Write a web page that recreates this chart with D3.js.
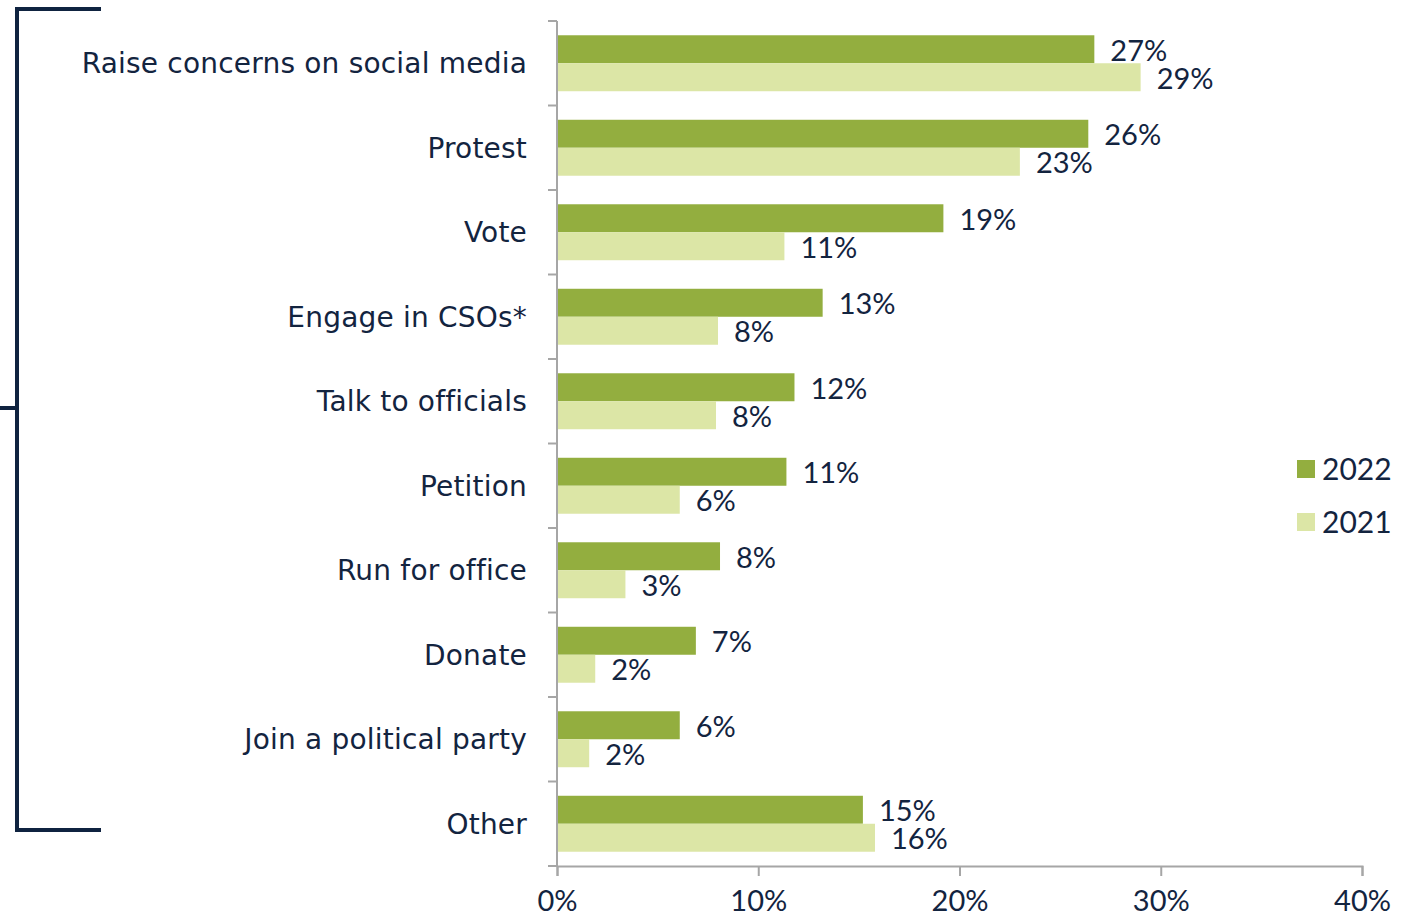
<!DOCTYPE html>
<html><head><meta charset="utf-8">
<script src="https://cdn.jsdelivr.net/npm/d3@7"></script>
<style>html,body{margin:0;padding:0;background:#fff;} svg{display:block;}</style>
</head><body>
<svg id="chart" width="1405" height="922"></svg>
<script>
const categories = ["Raise concerns on social media","Protest","Vote","Engage in CSOs*","Talk to officials","Petition","Run for office","Donate","Join a political party","Other"];
const series = ["2022","2021"];
const values2022 = [26.7, 26.4, 19.2, 13.2, 11.8, 11.4, 8.1, 6.9, 6.1, 15.2];
const values2021 = [29.0, 23.0, 11.3, 8.0, 7.9, 6.1, 3.4, 1.9, 1.6, 15.8];
const labels2022 = ["27%","26%","19%","13%","12%","11%","8%","7%","6%","15%"];
const labels2021 = ["29%","23%","11%","8%","8%","6%","3%","2%","2%","16%"];
const xTicks = [0, 10, 20, 30, 40];
const colors = {"2022": "#93ae3f", "2021": "#dce6a6"};
const textColor = "#13243f";
const font = "Lato, 'Open Sans', sans-serif";
const catFont = "'DejaVu Sans', sans-serif";

(function () {
const svg = d3.select("#chart");
const pLeft = 557, pRight = 1362, pTop = 21, pBottom = 866;
const x = d3.scaleLinear().domain([0, 40]).range([pLeft, pRight]);
const y = d3.scaleBand().domain(categories).range([pTop, pBottom]).padding(0);
const ySub = d3.scaleBand().domain(series).range([0, y.bandwidth()]).paddingInner(0).paddingOuter(0.51);

const rows = categories.map((c, i) => ({cat: c, vals: [
  {s: "2022", v: values2022[i], l: labels2022[i]},
  {s: "2021", v: values2021[i], l: labels2021[i]}]}));

const g = svg.append("g");
const rowG = g.selectAll("g.row").data(rows).join("g")
  .attr("transform", d => `translate(0,${y(d.cat)})`);
rowG.selectAll("rect").data(d => d.vals).join("rect")
  .attr("x", x(0)).attr("y", d => ySub(d.s))
  .attr("width", d => x(d.v) - x(0)).attr("height", ySub.bandwidth())
  .attr("fill", d => colors[d.s]);
rowG.selectAll("text.val").data(d => d.vals).join("text").attr("class", "val")
  .attr("x", d => x(d.v) + 16).attr("y", d => ySub(d.s) + ySub.bandwidth() / 2 + 1)
  .attr("dy", "0.36em").attr("fill", textColor)
  .style("font-family", font).style("font-size", "29px")
  .text(d => d.l);

g.selectAll("text.cat").data(categories).join("text").attr("class", "cat")
  .attr("x", 527).attr("y", d => y(d) + y.bandwidth() / 2)
  .attr("dy", "0.36em").attr("text-anchor", "end").attr("fill", textColor)
  .style("font-family", catFont).style("font-size", "28px").style("letter-spacing", "0.2px")
  .text(d => d);

const axisColor = "#a6a6a6";
g.append("line").attr("x1", pLeft).attr("x2", pLeft).attr("y1", pTop).attr("y2", pBottom)
  .attr("stroke", axisColor).attr("stroke-width", 2);
const bounds = categories.map(c => y(c)).concat([pBottom]);
g.selectAll("line.ytick").data(bounds).join("line").attr("class", "ytick")
  .attr("x1", pLeft - 9).attr("x2", pLeft).attr("y1", d => d).attr("y2", d => d)
  .attr("stroke", axisColor).attr("stroke-width", 2);

const xAxis = g.append("g").attr("transform", `translate(0,${pBottom})`)
  .call(d3.axisBottom(x).tickValues(xTicks).tickFormat(d => d + "%").tickSize(10).tickPadding(14));
xAxis.select(".domain").attr("stroke", axisColor).attr("stroke-width", 2);
xAxis.selectAll(".tick line").attr("stroke", axisColor).attr("stroke-width", 2);
xAxis.selectAll(".tick text").attr("fill", textColor)
  .style("font-family", font).style("font-size", "29px");

const leg = svg.append("g");
series.forEach((s, i) => {
  const ly = 469 + i * 53;
  leg.append("rect").attr("x", 1297).attr("y", ly - 9).attr("width", 18).attr("height", 18).attr("fill", colors[s]);
  leg.append("text").attr("x", 1322).attr("y", ly).attr("dy", "0.36em").attr("fill", textColor)
    .style("font-family", font).style("font-size", "30px").text(s);
});

const bc = "#0f2340";
const br = svg.append("g").attr("stroke", bc).attr("stroke-width", 4).attr("fill", "none");
br.append("path").attr("d", "M101,9 H17 V830 H101");
br.append("line").attr("x1", 0).attr("x2", 17).attr("y1", 408).attr("y2", 408);
})();
</script>
</body></html>
